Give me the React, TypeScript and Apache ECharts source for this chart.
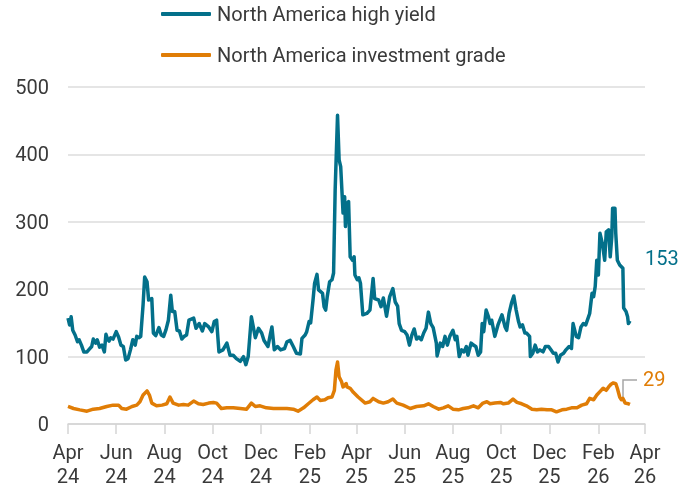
import React, { useEffect, useRef } from "react";
import * as echarts from "echarts";

const hySeriesName = "North America high yield";
const igSeriesName = "North America investment grade";

const hyDates = [
  "2024-04-01","2024-04-03","2024-04-05","2024-04-07","2024-04-10","2024-04-13","2024-04-15","2024-04-18","2024-04-21","2024-04-25","2024-04-28",
  "2024-05-01","2024-05-03","2024-05-06","2024-05-08","2024-05-11","2024-05-14","2024-05-17","2024-05-19","2024-05-21","2024-05-23","2024-05-25","2024-05-28",
  "2024-06-01","2024-06-04","2024-06-07","2024-06-10","2024-06-13","2024-06-16","2024-06-19","2024-06-22","2024-06-25","2024-06-27","2024-06-30",
  "2024-07-02","2024-07-05","2024-07-07","2024-07-10","2024-07-12","2024-07-16","2024-07-18","2024-07-21","2024-07-25","2024-07-28","2024-07-31",
  "2024-08-03","2024-08-06","2024-08-09","2024-08-11","2024-08-14","2024-08-17","2024-08-20","2024-08-23","2024-08-26","2024-08-29",
  "2024-09-01","2024-09-07","2024-09-10","2024-09-14","2024-09-18","2024-09-21","2024-09-26","2024-09-30",
  "2024-10-03","2024-10-06","2024-10-09","2024-10-14","2024-10-19","2024-10-23","2024-10-27","2024-10-31",
  "2024-11-05","2024-11-09","2024-11-12","2024-11-15","2024-11-19","2024-11-24","2024-11-28",
  "2024-12-02","2024-12-05","2024-12-10","2024-12-13","2024-12-15","2024-12-18","2024-12-22","2024-12-26","2024-12-31",
  "2025-01-03","2025-01-07","2025-01-11","2025-01-15","2025-01-20","2025-01-22","2025-01-26","2025-01-28","2025-01-31",
  "2025-02-02","2025-02-05","2025-02-07","2025-02-10","2025-02-12","2025-02-15","2025-02-17","2025-02-19","2025-02-21","2025-02-23","2025-02-26",
  "2025-03-01","2025-03-03","2025-03-05","2025-03-07","2025-03-08","2025-03-10","2025-03-12","2025-03-15","2025-03-17","2025-03-18","2025-03-20","2025-03-22","2025-03-24","2025-03-27","2025-03-29","2025-03-30",
  "2025-04-02","2025-04-04","2025-04-06","2025-04-09","2025-04-14","2025-04-18","2025-04-22","2025-04-24","2025-04-29",
  "2025-05-02","2025-05-05","2025-05-09","2025-05-13","2025-05-17","2025-05-20","2025-05-23","2025-05-25","2025-05-28",
  "2025-06-01","2025-06-04","2025-06-07","2025-06-10","2025-06-13","2025-06-16","2025-06-19","2025-06-22","2025-06-25","2025-06-28",
  "2025-07-01","2025-07-04","2025-07-07","2025-07-11","2025-07-12","2025-07-16","2025-07-19","2025-07-22","2025-07-25","2025-07-28",
  "2025-08-01","2025-08-04","2025-08-06","2025-08-09","2025-08-12","2025-08-15","2025-08-18","2025-08-20","2025-08-24","2025-08-27","2025-08-30",
  "2025-09-02","2025-09-05","2025-09-07","2025-09-09","2025-09-12","2025-09-15","2025-09-17","2025-09-19","2025-09-23","2025-09-27",
  "2025-10-02","2025-10-06","2025-10-08","2025-10-11","2025-10-14","2025-10-17","2025-10-20","2025-10-23","2025-10-25","2025-10-28","2025-10-31",
  "2025-11-02","2025-11-06","2025-11-07","2025-11-10","2025-11-13","2025-11-16","2025-11-19","2025-11-23","2025-11-26","2025-11-30",
  "2025-12-03","2025-12-06","2025-12-09","2025-12-12","2025-12-15","2025-12-19","2025-12-22","2025-12-26","2025-12-29","2025-12-31",
  "2026-01-04","2026-01-07","2026-01-10","2026-01-13","2026-01-16","2026-01-19","2026-01-21","2026-01-24","2026-01-26","2026-01-28","2026-01-30",
  "2026-02-01","2026-02-03","2026-02-06","2026-02-09","2026-02-11","2026-02-14","2026-02-16","2026-02-18","2026-02-19","2026-02-22","2026-02-23","2026-02-25","2026-02-28",
  "2026-03-04","2026-03-05","2026-03-08","2026-03-10","2026-03-11","2026-03-13"
];
const hyValues = [
  157,147,159,139,132,122,125,117,107,107,111,
  115,126,120,125,114,117,107,133,126,123,128,126,
  137,129,117,115,95,97,110,125,117,130,128,
  130,177,218,211,184,186,135,131,143,132,130,
  140,154,191,167,167,139,138,126,130,132,
  154,157,142,149,138,149,144,137,
  152,154,107,110,120,102,102,97,
  93,100,88,100,159,128,142,
  135,124,115,133,144,110,115,110,112,
  122,124,115,105,104,127,132,137,152,
  150,184,209,222,199,196,194,174,169,189,211,
  214,224,347,421,458,392,382,313,337,293,327,330,248,243,248,221,
  214,217,209,162,164,169,216,186,184,
  174,187,160,189,201,181,175,149,139,
  137,132,117,132,141,126,129,125,135,142,
  166,149,143,120,101,120,115,130,117,130,
  139,125,130,100,110,107,115,102,120,117,115,
  102,107,149,137,169,159,149,154,130,147,
  162,144,139,164,179,190,169,152,144,147,135,
  135,130,100,105,117,107,110,107,115,115,
  110,105,105,92,102,105,110,115,112,149,
  130,128,144,149,147,157,164,194,189,204,243,
  221,283,268,243,285,288,248,278,320,320,283,243,236,
  231,172,167,159,149,153
];

const igDates = [
  "2024-04-01","2024-04-08","2024-04-16","2024-04-25","2024-05-03","2024-05-11","2024-05-20","2024-05-28",
  "2024-06-04","2024-06-08","2024-06-14","2024-06-21","2024-06-27",
  "2024-07-01","2024-07-05","2024-07-10","2024-07-13","2024-07-16","2024-07-22","2024-07-29",
  "2024-08-04","2024-08-08","2024-08-12","2024-08-19","2024-08-25","2024-08-31",
  "2024-09-07","2024-09-13","2024-09-19","2024-09-26",
  "2024-10-02","2024-10-06","2024-10-12","2024-10-19","2024-10-27",
  "2024-11-05","2024-11-13","2024-11-19","2024-11-24","2024-11-30",
  "2024-12-08","2024-12-17","2024-12-25",
  "2025-01-03","2025-01-11","2025-01-17","2025-01-24","2025-01-30",
  "2025-02-05","2025-02-10","2025-02-14","2025-02-20","2025-02-24",
  "2025-03-01","2025-03-04","2025-03-06","2025-03-08","2025-03-10","2025-03-13","2025-03-15","2025-03-19","2025-03-20","2025-03-24","2025-03-28",
  "2025-04-03","2025-04-12","2025-04-18","2025-04-22","2025-04-29",
  "2025-05-05","2025-05-11","2025-05-17","2025-05-22","2025-05-30",
  "2025-06-08","2025-06-16","2025-06-25",
  "2025-07-01","2025-07-07","2025-07-14","2025-07-20","2025-07-26",
  "2025-08-01","2025-08-08","2025-08-14","2025-08-20","2025-08-27",
  "2025-09-02","2025-09-08","2025-09-13","2025-09-17","2025-09-23","2025-09-30",
  "2025-10-04","2025-10-10","2025-10-16","2025-10-21","2025-10-27",
  "2025-11-02","2025-11-09","2025-11-15","2025-11-21","2025-11-28",
  "2025-12-04","2025-12-10","2025-12-17","2025-12-23","2025-12-29",
  "2026-01-05","2026-01-11","2026-01-17","2026-01-21","2026-01-26","2026-01-30",
  "2026-02-03","2026-02-07","2026-02-11","2026-02-14","2026-02-17","2026-02-20","2026-02-23","2026-02-25","2026-02-28",
  "2026-03-02","2026-03-04","2026-03-07","2026-03-11","2026-03-13"
];
const igValues = [
  26,23,21,19,22,23,26,28,
  28,23,22,26,28,
  33,43,49,43,31,27,28,
  30,40,31,28,29,28,
  34,30,29,31,
  32,31,23,24,24,
  23,22,31,26,27,
  24,23,23,
  23,22,19,24,30,
  36,40,35,36,39,
  40,50,80,92,70,63,55,60,55,53,47,
  40,31,33,38,33,
  31,33,37,31,28,
  23,26,27,
  30,26,22,24,27,
  22,21,23,24,27,
  24,31,33,30,31,32,
  30,31,37,32,30,
  27,22,21,22,21,
  21,18,21,22,24,
  24,28,30,38,36,43,
  48,53,50,55,59,61,60,53,40,
  36,38,31,30,29
];

const yTicks = [0, 100, 200, 300, 400, 500];
const monthNames = ["Jan","Feb","Mar","Apr","May","Jun","Jul","Aug","Sep","Oct","Nov","Dec"];
const axisStart = "2024-04-01";
const axisEnd = "2026-04-01";

const HY_COLOR = "#03708a";
const IG_COLOR = "#e07d06";
const TEXT_COLOR = "#3a3a3a";
const FONT = "Roboto, 'Noto Sans', sans-serif";

function buildDays(start: string, end: string): string[] {
  const out: string[] = [];
  const s = new Date(start + "T00:00:00Z").getTime();
  const e = new Date(end + "T00:00:00Z").getTime();
  for (let t = s; t <= e; t += 86400000) {
    out.push(new Date(t).toISOString().slice(0, 10));
  }
  return out;
}

function isTickDay(value: string): boolean {
  if (!value.endsWith("-01")) return false;
  const m = parseInt(value.slice(5, 7), 10);
  return m % 2 === 0;
}

export default function App() {
  const ref = useRef<HTMLDivElement>(null);
  useEffect(() => {
    if (!ref.current) return;
    const chart = echarts.init(ref.current, undefined, { renderer: "svg" });
    const days = buildDays(axisStart, axisEnd);
    const hyData = hyDates.map((d, i) => [d, hyValues[i]]);
    const igData = igDates.map((d, i) => [d, igValues[i]]);
    chart.setOption({
      animation: false,
      textStyle: { fontFamily: FONT },
      grid: { left: 68, right: 33, top: 87, bottom: 67, containLabel: false },
      legend: {
        orient: "vertical",
        left: 161,
        top: 3,
        padding: 0,
        itemWidth: 50,
        itemHeight: 4,
        itemGap: 19,
        icon: "roundRect",
        textStyle: { fontSize: 20, color: TEXT_COLOR, fontFamily: FONT, lineHeight: 22, padding: [0, 0, 0, 1] },
        data: [
          { name: hySeriesName, itemStyle: { color: HY_COLOR } },
          { name: igSeriesName, itemStyle: { color: IG_COLOR } },
        ],
      },
      xAxis: {
        type: "category",
        data: days,
        boundaryGap: false,
        axisLine: { show: true, lineStyle: { color: "#d4d4d4", width: 1.5 } },
        axisTick: { show: true, interval: (_i: number, v: string) => isTickDay(v), length: 10, lineStyle: { color: "#d4d4d4", width: 1.5 } },
        axisLabel: {
          interval: (_i: number, v: string) => isTickDay(v),
          formatter: (v: string) => monthNames[parseInt(v.slice(5, 7), 10) - 1] + "\n" + v.slice(2, 4),
          fontSize: 20,
          lineHeight: 24,
          color: TEXT_COLOR,
          margin: 16,
          fontFamily: FONT,
        },
        splitLine: { show: false },
      },
      yAxis: {
        type: "value",
        min: yTicks[0],
        max: yTicks[yTicks.length - 1],
        interval: 100,
        axisLine: { show: false },
        axisTick: { show: false },
        axisLabel: { fontSize: 20, color: TEXT_COLOR, margin: 19, fontFamily: FONT },
        splitLine: { lineStyle: { color: "#dcdcdc", width: 1.5 } },
      },
      series: [
        {
          name: hySeriesName,
          type: "line",
          data: hyData,
          showSymbol: false,
          color: HY_COLOR,
          lineStyle: { color: HY_COLOR, width: 3.5, join: "round" },
          z: 3,
        },
        {
          name: igSeriesName,
          type: "line",
          data: igData,
          showSymbol: false,
          color: IG_COLOR,
          lineStyle: { color: IG_COLOR, width: 3.5, join: "round" },
          z: 4,
        },
      ],
      graphic: [
        {
          type: "text",
          left: 645,
          top: 248,
          style: { text: String(hyValues[hyValues.length - 1]), fill: HY_COLOR, fontSize: 20, fontFamily: FONT },
        },
        {
          type: "polyline",
          shape: { points: [[623, 397], [623, 380], [637, 380]] },
          style: { stroke: "#a6a6a6", lineWidth: 1.5, fill: "none" },
        },
        {
          type: "text",
          left: 643,
          top: 369,
          style: { text: String(igValues[igValues.length - 1]), fill: IG_COLOR, fontSize: 20, fontFamily: FONT },
        },
      ],
    });
    return () => chart.dispose();
  }, []);
  return <div ref={ref} style={{ position: "fixed", left: 0, top: 0, width: 678, height: 491 }} />;
}
